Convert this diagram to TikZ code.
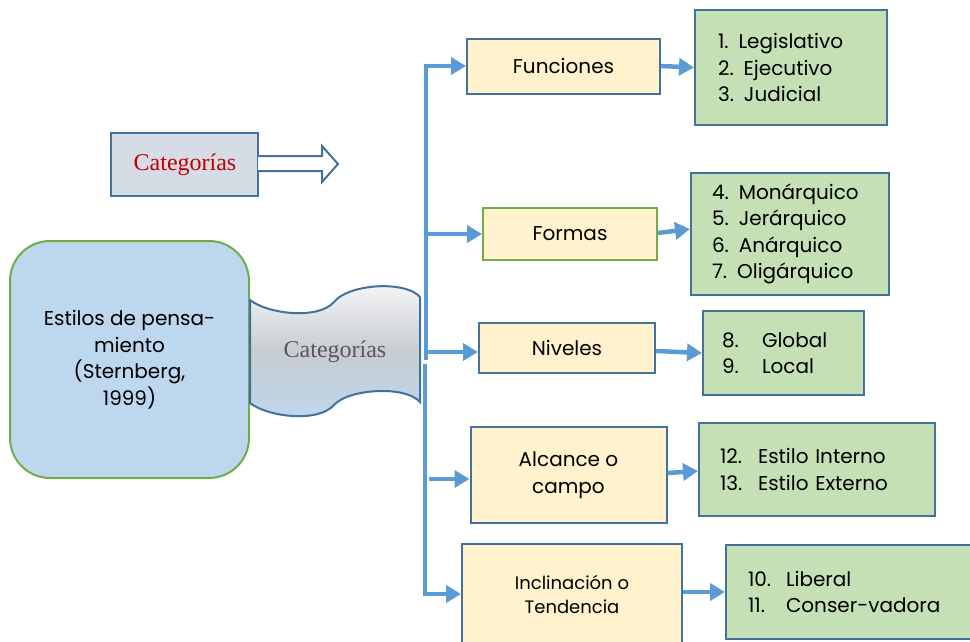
\documentclass[tikz,border=0pt]{standalone}
\usepackage{fontspec}
\setmainfont{Poppins}
\newfontfamily\catfont{Liberation Serif}
\usetikzlibrary{arrows.meta}
\definecolor{lineblue}{HTML}{5B9BD5}
\definecolor{darkblue}{HTML}{41719C}
\definecolor{yellowfill}{HTML}{FFF2CC}
\definecolor{greenfill}{HTML}{C5E0B4}
\definecolor{greenline}{HTML}{70AD47}
\definecolor{bigblue}{HTML}{BDD7EE}
\definecolor{catgray}{HTML}{D6DCE5}
\definecolor{catred}{HTML}{C00000}
\definecolor{tapegray}{HTML}{C8CCD1}
\definecolor{tapetext}{HTML}{595959}
\tikzset{
  catbox/.style={draw=darkblue, line width=2pt, fill=yellowfill, inner sep=0pt, align=center, font=\fontsize{20}{27}\selectfont},
  listbox/.style={draw=darkblue, line width=2pt, fill=greenfill, inner ysep=0pt, align=left, font=\fontsize{20}{26.3}\selectfont},
  conn/.style={draw=lineblue, line width=4.5pt},
  tip/.style={-{Triangle[length=15pt,width=17pt]}},
}
\begin{document}
\begin{tikzpicture}[x=1pt,y=-1pt]
\useasboundingbox (0,0) rectangle (970,641);

% legend arrow box
\draw[draw=darkblue, line width=2pt, fill=catgray] (111,133) rectangle (258,196);
\draw[draw=darkblue, line width=2pt, fill=white, line join=miter]
  (258,156) -- (322,156) -- (322,146) -- (338,164) -- (322,182) -- (322,171) -- (258,171);
\node[font=\catfont\fontsize{24}{26}\selectfont, text=catred] (legend) at (185,165) {Categorías};

% main box
\node[draw=greenline, line width=2pt, fill=bigblue, rounded corners=40pt,
      minimum width=239pt, minimum height=237pt, align=center,
      font=\fontsize{20}{26.5}\selectfont] (main) at (129.5,359.5)
      {Estilos de pensa-\\miento\\(Sternberg,\\1999)};

% tape
\path[draw=darkblue, line width=2pt, top color=white!85!tapegray, bottom color=bigblue, middle color=tapegray]
  (250,300) .. controls (268,314) and (318,320) .. (334,302)
  .. controls (348,284) and (405,280) .. (420,297)
  -- (420,402) .. controls (405,385) and (348,389) .. (334,405)
  .. controls (318,423) and (268,417) .. (250,403) -- cycle;
\node[font=\catfont\fontsize{24}{26}\selectfont, text=tapetext] (tape) at (335,352) {Categorías};

% category boxes
\node[catbox, minimum width=193pt, minimum height=55pt] (fun) at (563.5,66) {Funciones};
\node[catbox, draw=greenline, minimum width=174pt, minimum height=52pt] (for) at (570,234) {Formas};
\node[catbox, minimum width=176pt, minimum height=50pt] (niv) at (567,348) {Niveles};
\node[catbox, minimum width=196pt, minimum height=96pt] (alc) at (568.5,475) {Alcance o\\campo};
\node[catbox, minimum width=220pt, minimum height=101pt, font=\fontsize{18}{24}\selectfont] (inc) at (572,594.5) {Inclinación o\\Tendencia};

% list boxes
\node[listbox, text width=146pt, inner xsep=23pt, minimum height=115pt] (g1) at (791,67.5)
  {1. Legislativo\\2. Ejecutivo\\3. Judicial};
\node[listbox, text width=156pt, inner xsep=21pt, minimum height=122pt] (g2) at (790,234)
  {4. Monárquico\\5. Jerárquico\\6. Anárquico\\7. Oligárquico};
\node[listbox, text width=123pt, inner xsep=19pt, minimum height=84pt] (g3) at (783.5,353)
  {\makebox[40pt][l]{8.}Global\\\makebox[40pt][l]{9.}Local};
\node[listbox, text width=194pt, inner xsep=21pt, minimum height=93pt] (g4) at (817,469.5)
  {\makebox[38pt][l]{12.}Estilo Interno\\\makebox[38pt][l]{13.}Estilo Externo};
\node[listbox, text width=224pt, inner xsep=22pt, minimum height=94pt] (g5) at (860,592)
  {\makebox[38pt][l]{10.}Liberal\\\makebox[38pt][l]{11.}Conser-vadora};

% trunk coordinates
\coordinate (tA) at (426,360);
\coordinate (tTop) at (426,66);
\coordinate (tB) at (425,364);
\coordinate (tBot) at (425,594);
\coordinate (bFor) at (428,234);
\coordinate (bNiv) at (428,352);
\coordinate (bAlc) at (429,479);

% trunk and branches
\draw[conn, tip] (tA) -- (tTop) -- (fun.west);
\draw[conn, tip] (tB) -- (tBot) -- (tBot -| inc.west);
\draw[conn, tip] (bFor) -- (for.west);
\draw[conn, tip] (bNiv) -- (bNiv -| niv.west);
\draw[conn, tip] (bAlc) -- (bAlc -| alc.west);

% box-to-list arrows
\draw[conn, tip] (fun.east) -- (g1.west);
\draw[conn, tip] ([yshift=1pt]for.east) -- ([yshift=5pt]g2.west);
\draw[conn, tip] ([yshift=-3pt]niv.east) -- (g3.west);
\draw[conn, tip] ([yshift=2pt]alc.east) -- ([yshift=-1.5pt]g4.west);
\draw[conn, tip] ([yshift=2.5pt]inc.east) -- (g5.west);
\end{tikzpicture}
\end{document}
